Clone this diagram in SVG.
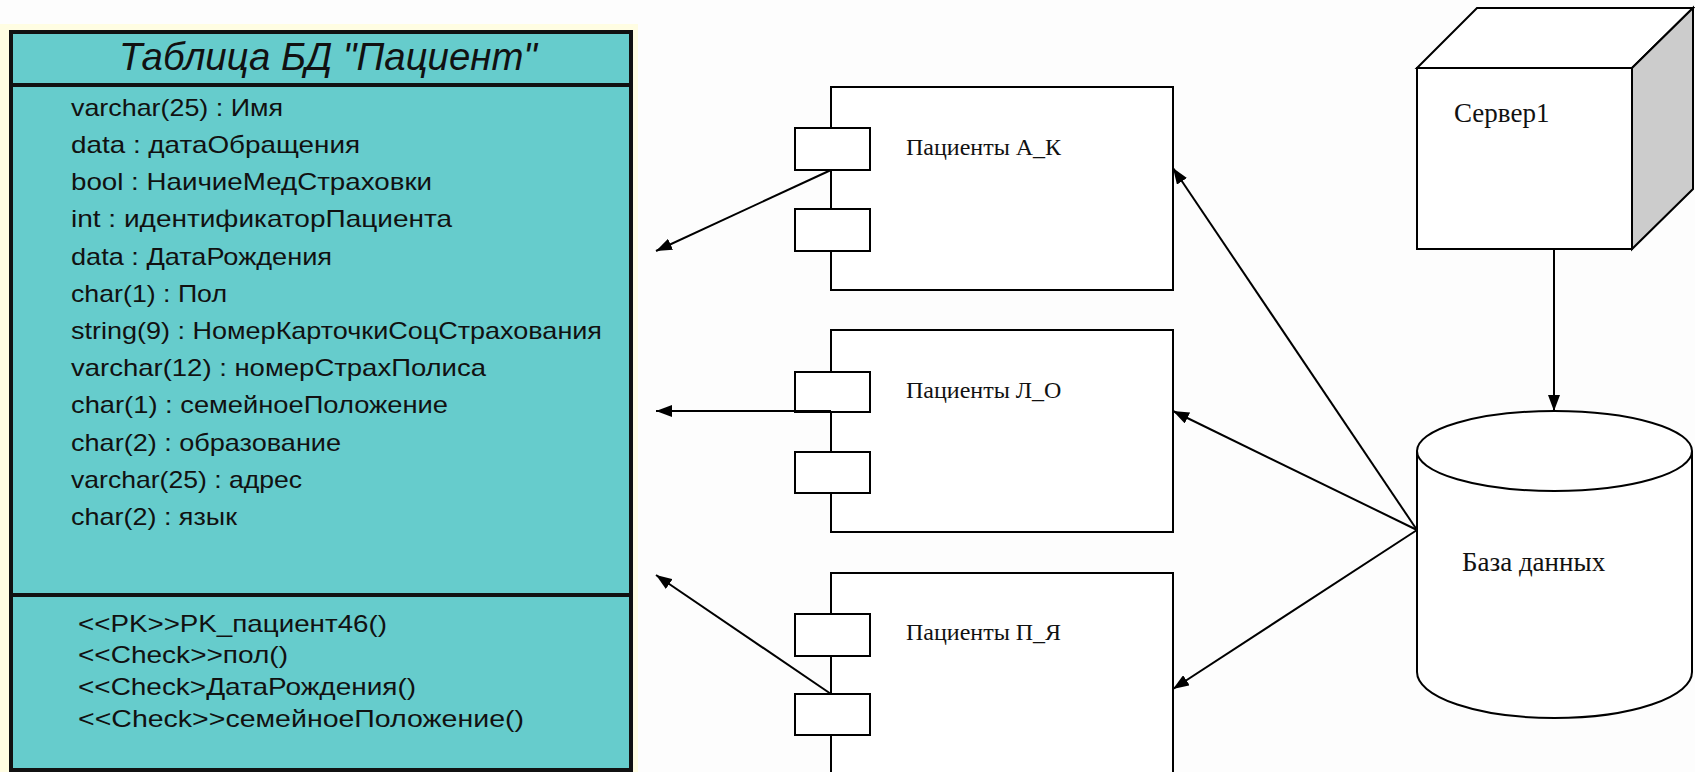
<svg xmlns="http://www.w3.org/2000/svg" width="1695" height="772" viewBox="0 0 1695 772">
  <defs>
    <marker id="arrow" markerUnits="userSpaceOnUse" markerWidth="18" markerHeight="12" refX="16" refY="6" orient="auto">
      <path d="M0,0 L16,6 L0,12 Z" fill="#000"/>
    </marker>
    <style>
      .attr { font-family: "Liberation Sans", Arial, sans-serif; font-size: 24px; fill: #111; }
      .title { font-family: "Liberation Sans", Arial, sans-serif; font-size: 38px; font-style: italic; fill: #111; }
      .lbl { font-family: "Liberation Serif", "Times New Roman", serif; font-size: 24px; fill: #111; }
      .lbl-lg { font-family: "Liberation Serif", "Times New Roman", serif; font-size: 27px; fill: #111; }
      .box { fill: #fff; stroke: #000; stroke-width: 2; }
      .conn { stroke: #000; stroke-width: 2; fill: none; marker-end: url(#arrow); }
    </style>
  </defs>

  <rect x="0" y="0" width="1695" height="772" fill="#fdfdfd"/>

  <!-- Patient table class -->
  <g id="patient-table">
    <rect x="0" y="24" width="638" height="748" fill="#fffde2"/>
    <rect x="11" y="32" width="620" height="738" fill="#66cccc" stroke="#111" stroke-width="4"/>
    <line x1="11" y1="85" x2="631" y2="85" stroke="#111" stroke-width="4"/>
    <line x1="11" y1="595" x2="631" y2="595" stroke="#111" stroke-width="4"/>
    <text class="title" x="119" y="70" textLength="418" lengthAdjust="spacingAndGlyphs">Таблица БД "Пациент"</text>
    <text class="attr" x="71" y="116" textLength="212" lengthAdjust="spacingAndGlyphs">varchar(25) : Имя</text>
    <text class="attr" x="71" y="153" textLength="289" lengthAdjust="spacingAndGlyphs">data : датаОбращения</text>
    <text class="attr" x="71" y="190" textLength="361" lengthAdjust="spacingAndGlyphs">bool : НаичиеМедСтраховки</text>
    <text class="attr" x="71" y="227" textLength="381" lengthAdjust="spacingAndGlyphs">int : идентификаторПациента</text>
    <text class="attr" x="71" y="265" textLength="261" lengthAdjust="spacingAndGlyphs">data : ДатаРождения</text>
    <text class="attr" x="71" y="302" textLength="156" lengthAdjust="spacingAndGlyphs">char(1) : Пол</text>
    <text class="attr" x="71" y="339" textLength="531" lengthAdjust="spacingAndGlyphs">string(9) : НомерКарточкиСоцСтрахования</text>
    <text class="attr" x="71" y="376" textLength="415" lengthAdjust="spacingAndGlyphs">varchar(12) : номерСтрахПолиса</text>
    <text class="attr" x="71" y="413" textLength="377" lengthAdjust="spacingAndGlyphs">char(1) : семейноеПоложение</text>
    <text class="attr" x="71" y="451" textLength="270" lengthAdjust="spacingAndGlyphs">char(2) : образование</text>
    <text class="attr" x="71" y="488" textLength="231" lengthAdjust="spacingAndGlyphs">varchar(25) : адрес</text>
    <text class="attr" x="71" y="525" textLength="166" lengthAdjust="spacingAndGlyphs">char(2) : язык</text>
    <text class="attr" x="78" y="632" textLength="309" lengthAdjust="spacingAndGlyphs">&lt;&lt;PK&gt;&gt;PK_пациент46()</text>
    <text class="attr" x="78" y="663" textLength="210" lengthAdjust="spacingAndGlyphs">&lt;&lt;Check&gt;&gt;пол()</text>
    <text class="attr" x="78" y="695" textLength="338" lengthAdjust="spacingAndGlyphs">&lt;&lt;Check&gt;ДатаРождения()</text>
    <text class="attr" x="78" y="727" textLength="446" lengthAdjust="spacingAndGlyphs">&lt;&lt;Check&gt;&gt;семейноеПоложение()</text>
  </g>

  <!-- Components -->
  <g id="comp-a-k">
    <rect class="box" x="831" y="87" width="342" height="203"/>
    <rect class="box" x="795" y="128" width="75" height="42"/>
    <rect class="box" x="795" y="209" width="75" height="42"/>
    <text class="lbl" x="906" y="155">Пациенты А_К</text>
  </g>
  <g id="comp-l-o">
    <rect class="box" x="831" y="330" width="342" height="202"/>
    <rect class="box" x="795" y="372" width="75" height="40"/>
    <rect class="box" x="795" y="452" width="75" height="41"/>
    <text class="lbl" x="906" y="398">Пациенты Л_О</text>
  </g>
  <g id="comp-p-ya">
    <rect class="box" x="831" y="573" width="342" height="220"/>
    <rect class="box" x="795" y="614" width="75" height="42"/>
    <rect class="box" x="795" y="694" width="75" height="41"/>
    <text class="lbl" x="906" y="640">Пациенты П_Я</text>
  </g>

  <!-- Server node -->
  <g id="server1">
    <polygon points="1417,68 1477,8 1693,8 1632,68" fill="#fff" stroke="#000" stroke-width="2"/>
    <polygon points="1632,68 1693,8 1693,189 1632,249" fill="#cccccc" stroke="#000" stroke-width="2"/>
    <rect class="box" x="1417" y="68" width="215" height="181"/>
    <text class="lbl-lg" x="1454" y="122" font-size="26">Сервер1</text>
  </g>

  <!-- Database -->
  <g id="database">
    <path d="M1417,451 L1417,672 A137.5,46 0 0 0 1692,672 L1692,451" fill="#fff" stroke="#000" stroke-width="2"/>
    <ellipse cx="1554.5" cy="451" rx="137.5" ry="40" fill="#fff" stroke="#000" stroke-width="2"/>
    <text class="lbl-lg" x="1462" y="571">База данных</text>
  </g>

  <!-- Connectors -->
  <g id="connectors">
    <line class="conn" x1="831" y1="170" x2="656" y2="251"/>
    <line class="conn" x1="831" y1="411" x2="656" y2="411"/>
    <line class="conn" x1="831" y1="694" x2="656" y2="575"/>
    <line class="conn" x1="1417" y1="530" x2="1173" y2="168"/>
    <line class="conn" x1="1417" y1="530" x2="1173" y2="411"/>
    <line class="conn" x1="1417" y1="530" x2="1173" y2="689"/>
    <line class="conn" x1="1554" y1="249" x2="1554" y2="411"/>
  </g>
</svg>
